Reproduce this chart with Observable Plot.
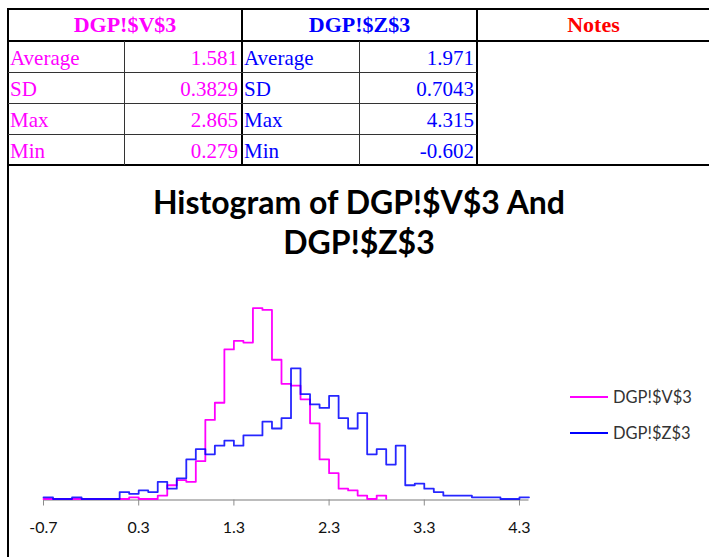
<!DOCTYPE html>
<html>
<head>
<meta charset="utf-8">
<script src="https://cdn.jsdelivr.net/npm/d3@7"></script>
<script src="https://cdn.jsdelivr.net/npm/@observablehq/plot@0.6"></script>
<style>
  html, body { margin: 0; padding: 0; background: #fff; }
  #page { position: relative; width: 709px; height: 557px; overflow: hidden; background: #fff; }
  .ln { position: absolute; background: #000; }
  .thin { background: #333; }
  .cell { position: absolute; font-family: "Liberation Serif", "Times New Roman", serif; font-size: 21px; line-height: 30px; white-space: nowrap; }
  .hdr { font-weight: bold; font-size: 22px; text-align: center; }
  .title { position: absolute; left: 0; width: 718px; text-align: center; font-family: Lato, "Open Sans", sans-serif; font-weight: bold; font-size: 32px; color: #000; line-height: 40px; }
  .leg { position: absolute; font-family: Lato, "Open Sans", sans-serif; font-size: 16.5px; color: #333; line-height: 20px; white-space: nowrap; }
  .legline { position: absolute; height: 2px; }
  #chart { position: absolute; left: 0; top: 165px; }
</style>
</head>
<body>
<div id="page"></div>
<script>
// ---- data ----
const seriesNames = ["DGP!$V$3", "DGP!$Z$3"];
const seriesColors = ["#ff00ff", "#0000ff"];
const statLabels = ["Average", "SD", "Max", "Min"];
const statsV = ["1.581", "0.3829", "2.865", "0.279"];
const statsZ = ["1.971", "0.7043", "4.315", "-0.602"];
const notesLabel = "Notes";
const titleLines = ["Histogram of DGP!$V$3 And", "DGP!$Z$3"];
const tickValues = [-0.7, 0.3, 1.3, 2.3, 3.3, 4.3];
const binEdges = [-0.7, -0.6, -0.5, -0.4, -0.3, -0.2, -0.1, 0.0, 0.1, 0.2,
  0.3, 0.4, 0.5, 0.6, 0.7, 0.8, 0.9, 1.0, 1.1, 1.2,
  1.3, 1.4, 1.5, 1.6, 1.7, 1.8, 1.9, 2.0, 2.1, 2.2,
  2.3, 2.4, 2.5, 2.6, 2.7, 2.8, 2.9, 3.0, 3.1, 3.2,
  3.3, 3.4, 3.5, 3.6, 3.7, 3.8, 3.9, 4.0, 4.1, 4.2,
  4.3, 4.4];
// counts per bin (bin starting at binEdges[i])
const vCounts = [0, 0, 0, 0, 0, 0, 0, 0, 0, 1,
  0, 0, 2, 8, 11, 10, 22, 46, 56, 87,
  92, 91, 111, 110, 81, 67, 66, 58, 44, 23,
  15, 6, 5, 2, 0, 2];
const zCounts = [1, 0, 0, 1, 0, 0, 0, 0, 4, 3,
  5, 4, 10, 6, 12, 23, 29, 26, 31, 34,
  31, 37, 37, 45, 41, 47, 76, 61, 55, 53,
  60, 47, 41, 50, 26, 29, 20, 31, 8, 9,
  6, 4, 2, 2, 2, 1, 1, 1, 0, 0,
  1];

// ---- table ----
const page = document.getElementById("page");
function el(cls, style, text) {
  const d = document.createElement("div");
  d.className = cls;
  Object.assign(d.style, style);
  if (text !== undefined) d.textContent = text;
  page.appendChild(d);
  return d;
}
// borders
el("ln", {left: "7px", top: "8px", width: "702px", height: "2px"});
el("ln", {left: "7px", top: "40px", width: "702px", height: "2px"});
el("ln", {left: "7px", top: "164px", width: "702px", height: "2px"});
el("ln", {left: "7px", top: "8px", width: "2px", height: "549px"});
el("ln", {left: "241px", top: "8px", width: "2px", height: "157px"});
el("ln", {left: "476px", top: "8px", width: "2px", height: "157px"});
el("ln thin", {left: "124px", top: "41px", width: "1px", height: "124px"});
el("ln thin", {left: "359px", top: "41px", width: "1px", height: "124px"});
[72, 103, 134].forEach(y => el("ln thin", {left: "8px", top: y + "px", width: "469px", height: "1px"}));

el("cell hdr", {left: "9px", top: "10px", width: "232px", color: seriesColors[0]}, seriesNames[0]);
el("cell hdr", {left: "243px", top: "10px", width: "233px", color: seriesColors[1]}, seriesNames[1]);
el("cell hdr", {left: "478px", top: "10px", width: "231px", color: "#ff0000"}, notesLabel);
statLabels.forEach((lab, i) => {
  const top = 43 + i * 31;
  el("cell", {left: "10px", top: top + "px", color: seriesColors[0]}, lab);
  el("cell", {left: "125px", top: top + "px", width: "113px", textAlign: "right", color: seriesColors[0]}, statsV[i]);
  el("cell", {left: "244px", top: top + "px", color: seriesColors[1]}, lab);
  el("cell", {left: "360px", top: top + "px", width: "114px", textAlign: "right", color: seriesColors[1]}, statsZ[i]);
});

// ---- title ----
el("title", {top: "182px"}, titleLines[0]);
el("title", {top: "222px"}, titleLines[1]);

// ---- chart ----
const vData = vCounts.map((c, i) => ({x: binEdges[i], y: c}));
vData.push({x: binEdges[vCounts.length], y: 0});
const zData = zCounts.map((c, i) => ({x: binEdges[i], y: c}));
zData.push({x: binEdges[zCounts.length], y: zCounts[zCounts.length - 1]});

const chart = Plot.plot({
  width: 709,
  height: 392,
  marginLeft: 43,
  marginRight: 180.5,
  marginTop: 142.7,
  marginBottom: 58.5,
  style: {fontFamily: "Lato, 'Open Sans', sans-serif", background: "transparent", color: "#000"},
  x: {domain: [-0.7, 4.4]},
  y: {domain: [0, 111], axis: null},
  marks: [
    Plot.ruleY([0], {stroke: "#a6a6a6", strokeWidth: 1.5, dy: 1}),
    Plot.axisX({ticks: tickValues, tickFormat: d => d.toFixed(1), tickSize: 6, tickPadding: 16, stroke: "#8c8c8c", fill: "#111", fontSize: 16, label: null, dy: 1}),
    Plot.line(vData, {x: "x", y: "y", curve: "step-after", stroke: seriesColors[0], strokeWidth: 1.8}),
    Plot.line(zData, {x: "x", y: "y", curve: "step-after", stroke: seriesColors[1], strokeWidth: 1.8, strokeOpacity: 0.85})
  ]
});
chart.id = "chart";
page.appendChild(chart);

// ---- legend ----
seriesNames.forEach((name, i) => {
  const cy = 397 + i * 36;
  el("legline", {left: "570px", top: (cy - 1) + "px", width: "38px", background: seriesColors[i]});
  el("leg", {left: "613px", top: (cy - 10) + "px"}, name);
});
</script>
</body>
</html>
